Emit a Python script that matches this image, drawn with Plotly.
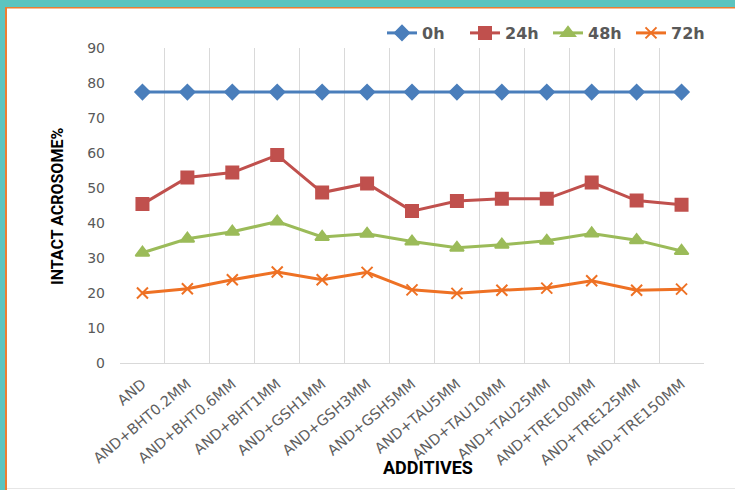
import plotly.graph_objects as go

# Additive groups along the x axis
additives = [
    "AND", "AND+BHT0.2MM", "AND+BHT0.6MM", "AND+BHT1MM",
    "AND+GSH1MM", "AND+GSH3MM", "AND+GSH5MM",
    "AND+TAU5MM", "AND+TAU10MM", "AND+TAU25MM",
    "AND+TRE100MM", "AND+TRE125MM", "AND+TRE150MM",
]

# Intact acrosome (%) at each storage time
acr_0h = [77.4] * 13
acr_24h = [45.4, 53.0, 54.4, 59.4, 48.7, 51.3, 43.4, 46.3, 46.9, 46.9, 51.6, 46.4, 45.2]
acr_48h = [31.5, 35.5, 37.5, 40.4, 36.0, 36.9, 34.7, 32.9, 33.8, 34.9, 37.0, 35.1, 32.0]
acr_72h = [20.0, 21.2, 23.8, 26.0, 23.8, 25.9, 20.9, 19.9, 20.8, 21.4, 23.5, 20.8, 21.1]

y_ticks = list(range(0, 91, 10))

series = [
    ("0h", acr_0h, "#4A7EBB", "diamond", 11),
    ("24h", acr_24h, "#C0504D", "square", 12),
    ("48h", acr_48h, "#9BBB59", "triangle-up", 12),
    ("72h", acr_72h, "#EE7124", "x-thin-open", 11),
]

xs = list(range(len(additives)))

fig = go.Figure()
for name, vals, color, symbol, size in series:
    fig.add_trace(go.Scatter(
        x=xs, y=vals, name=name, mode="lines+markers",
        line=dict(color=color, width=3),
        marker=dict(symbol=symbol, size=size, color=color,
                    line=dict(color=color, width=2)),
    ))

W, H = 735, 490
L, R, T, B = 120, 31, 48, 127
pw, ph = W - L - R, H - T - B


def px_x(p):
    return (p - L) / pw


def px_y(p):
    return (H - B - p) / ph


teal = "#5BC4BF"
orange = "#ED7D31"
shapes = [
    # teal frame strips
    dict(type="rect", xref="paper", yref="paper", x0=px_x(0), x1=px_x(W),
         y0=px_y(7), y1=px_y(0), fillcolor=teal, line_width=0, layer="above"),
    dict(type="rect", xref="paper", yref="paper", x0=px_x(0), x1=px_x(5),
         y0=px_y(H), y1=px_y(0), fillcolor=teal, line_width=0, layer="above"),
    # thin orange inner edge
    dict(type="rect", xref="paper", yref="paper", x0=px_x(5), x1=px_x(W),
         y0=px_y(8.5), y1=px_y(7), fillcolor=orange, line_width=0, layer="above"),
    dict(type="rect", xref="paper", yref="paper", x0=px_x(5), x1=px_x(7),
         y0=px_y(H), y1=px_y(7), fillcolor=orange, line_width=0, layer="above"),
    # faint bottom edge
    dict(type="line", xref="paper", yref="paper", x0=px_x(7), x1=px_x(W),
         y0=px_y(488.5), y1=px_y(488.5), line=dict(color="#E6E6E6", width=1)),
]

fig.update_layout(
    width=W, height=H,
    margin=dict(l=L, r=R, t=T, b=B, autoexpand=False),
    paper_bgcolor="white", plot_bgcolor="white",
    font=dict(family="DejaVu Sans", color="#595959"),
    showlegend=True,
    legend=dict(orientation="h", x=px_x(382), xanchor="left", y=px_y(33), yanchor="middle",
                font=dict(family="DejaVu Sans", size=16, color="#595959", weight="bold"),
                bgcolor="rgba(0,0,0,0)", itemwidth=30, tracegroupgap=0,
                entrywidth=38, entrywidthmode="pixels"),
    xaxis=dict(
        range=[-0.5, len(additives) - 0.5],
        tickmode="array", tickvals=xs, ticktext=additives,
        tickangle=-40, tickfont=dict(size=14.5, color="#606060"),
        showgrid=False, zeroline=False,
        showline=True, linecolor="#D9D9D9", linewidth=1,
        ticks="", ticklabelstandoff=6,
        minor=dict(tick0=-0.5, dtick=1, showgrid=True, gridcolor="#D9D9D9", gridwidth=1),
    ),
    yaxis=dict(
        range=[0, 90], tickmode="array", tickvals=y_ticks,
        tickfont=dict(size=14, color="#595959"),
        showgrid=False, zeroline=False, showline=False, ticks="",
        ticklabelstandoff=14,
    ),
    shapes=shapes,
    annotations=[
        dict(text="ADDITIVES", xref="paper", yref="paper", x=px_x(428), y=px_y(467),
             showarrow=False,
             font=dict(family="Roboto", size=18, color="black", weight="bold"),
             xanchor="center", yanchor="middle"),
        dict(text="INTACT ACROSOME%", xref="paper", yref="paper", x=px_x(57), y=px_y(207),
             showarrow=False, textangle=-90,
             font=dict(family="Roboto", size=16, color="black", weight="bold"),
             xanchor="center", yanchor="middle"),
    ],
)

fig.write_html("out.html")
